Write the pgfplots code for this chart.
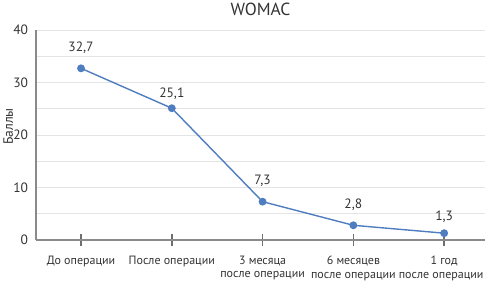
\documentclass[border=0pt]{standalone}
\usepackage{pgfplots}
\pgfplotsset{compat=1.18}
\usepackage{pgfplotstable}
\usepackage{fontspec}
\setmainfont{PT Sans}
\definecolor{lineblue}{HTML}{4F7DC0}
\definecolor{axgray}{HTML}{8A8A8A}
\definecolor{tickgray}{HTML}{6E6E6E}
\definecolor{gridgray}{HTML}{E4E4E4}
\definecolor{txt}{HTML}{333333}
\pgfplotstableread{
x y lab off
0 32.7 {32,7} 11
1 25.1 {25,1} 5
2 7.3 {7,3} 11
3 2.8 {2,8} 11
4 1.3 {1,3} 7
}\womac
\begin{document}
\begin{tikzpicture}
\useasboundingbox (0,0) rectangle (485pt,284pt);
\begin{axis}[
  at={(36pt,44pt)}, anchor=south west,
  scale only axis, width=449pt, height=210pt,
  xmin=-0.496, xmax=4.45, ymin=0, ymax=40,
  axis x line*=bottom, axis y line*=left,
  axis line style={axgray, line width=1.3pt},
  /pgf/number format/assume math mode=true,
  xtick={0,1,2,3,4},
  xticklabels={До операции, После операции, {3 месяца\\после операции}, {6 месяцев\\после операции}, {1 год\\после операции\hspace*{6pt}}},
  xticklabel style={align=center, font=\fontsize{12}{13.5}\selectfont, text=txt, yshift=-7pt},
  x tick style={color=tickgray, line width=1.5pt},
  major tick length=11pt, minor tick length=0pt, tick align=center,
  ytick={0,10,20,30,40},
  minor ytick={5,15,25,35},
  y tick style={draw=none},
  yticklabel style={font=\fontsize{13.5}{15}\selectfont, text=txt, xshift=1pt},
  ymajorgrids, yminorgrids,
  major grid style={gridgray, line width=0.8pt},
  minor grid style={gridgray, line width=0.8pt},
  every axis y label/.style={at={(axis description cs:-0.062,0.54)}, rotate=90, anchor=center, font=\fontsize{13.5}{15}\selectfont, text=txt},
  ylabel={Баллы},
  title={WOMAC},
  title style={font=\fontsize{17.5}{19}\selectfont, text=txt, at={(axis description cs:0.5,1)}, anchor=center, yshift=15pt},
  clip=false,
  nodes near coords,
  point meta=explicit symbolic,
  visualization depends on={\thisrow{off} \as \myoff},
  nodes near coords style={font=\fontsize{13.5}{15}\selectfont, text=txt, anchor=south, yshift=\myoff pt},
]
\addplot[lineblue, line width=1.4pt, mark=*, mark size=3.2pt, mark options={fill=lineblue, draw=lineblue}]
  table[x=x, y=y, meta=lab] {\womac};
\end{axis}
\end{tikzpicture}
\end{document}
